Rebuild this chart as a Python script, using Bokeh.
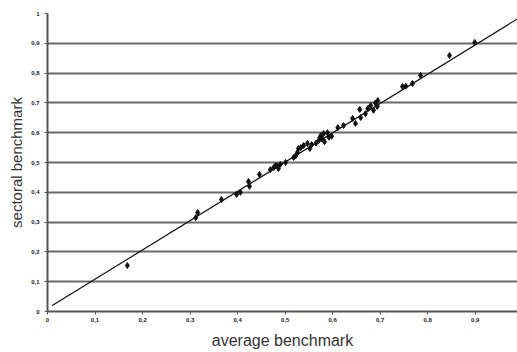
from bokeh.plotting import figure
from bokeh.models import Range1d, FixedTicker
from bokeh.embed import file_html
from bokeh.resources import INLINE

# data
avg_benchmark = [0.168, 0.312, 0.316, 0.366, 0.398, 0.406, 0.423, 0.425, 0.446, 0.469,
                 0.476, 0.480, 0.484, 0.486, 0.490, 0.501, 0.518, 0.522, 0.526, 0.528,
                 0.533, 0.539, 0.547, 0.552, 0.556, 0.565, 0.571, 0.573, 0.575, 0.578,
                 0.581, 0.583, 0.589, 0.592, 0.598, 0.611, 0.623, 0.642, 0.648, 0.657,
                 0.659, 0.669, 0.674, 0.680, 0.686, 0.690, 0.691, 0.695, 0.694, 0.747,
                 0.754, 0.768, 0.785, 0.846, 0.899]
sect_benchmark = [0.154, 0.315, 0.332, 0.376, 0.393, 0.400, 0.436, 0.420, 0.460, 0.476,
                  0.483, 0.490, 0.487, 0.480, 0.494, 0.500, 0.517, 0.522, 0.534, 0.547,
                  0.550, 0.557, 0.564, 0.547, 0.560, 0.565, 0.574, 0.583, 0.590, 0.578,
                  0.597, 0.570, 0.600, 0.585, 0.588, 0.617, 0.624, 0.648, 0.631, 0.678,
                  0.651, 0.664, 0.681, 0.691, 0.675, 0.700, 0.698, 0.708, 0.688, 0.755,
                  0.756, 0.765, 0.792, 0.859, 0.903]

fit_slope = 0.983
fit_intercept = 0.010
fit_x = [0.01, 1.0]
fit_y = [fit_intercept + fit_slope * v for v in fit_x]

x_ticks = [0, 0.1, 0.2, 0.3, 0.4, 0.5, 0.6, 0.7, 0.8, 0.9]
x_labels = ["0", "0,1", "0,2", "0,3", "0,4", "0,5", "0,6", "0,7", "0,8", "0,9"]
y_ticks = [0, 0.1, 0.2, 0.3, 0.4, 0.5, 0.6, 0.7, 0.8, 0.9, 1]
y_labels = ["0", "0,1", "0,2", "0,3", "0,4", "0,5", "0,6", "0,7", "0,8", "0,9", "1"]

p = figure(width=517, height=352, x_range=Range1d(0, 0.989), y_range=Range1d(0, 1),
           output_backend="svg", toolbar_location=None,
           min_border_left=47, min_border_right=0, min_border_top=13, min_border_bottom=41,
           x_axis_label="average benchmark", y_axis_label="sectoral benchmark")
p.outline_line_color = None
p.background_fill_color = "white"
p.border_fill_color = "white"

p.xgrid.visible = False
p.ygrid.ticker = FixedTicker(ticks=y_ticks)
p.ygrid.grid_line_color = "#6a6a6a"
p.ygrid.grid_line_width = 2

p.xaxis.ticker = FixedTicker(ticks=x_ticks)
p.yaxis.ticker = FixedTicker(ticks=y_ticks)
p.xaxis.major_label_overrides = dict(zip(x_ticks, x_labels))
p.yaxis.major_label_overrides = dict(zip(y_ticks, y_labels))

for ax in (p.xaxis[0], p.yaxis[0]):
    ax.axis_line_color = "#555555"
    ax.axis_line_width = 2
    ax.major_tick_line_color = "#555555"
    ax.major_tick_line_width = 1
    ax.major_tick_in = 0
    ax.major_tick_out = 3
    ax.minor_tick_line_color = None
    ax.major_label_text_font = "Liberation Sans"
    ax.major_label_text_font_size = "6px"
    ax.major_label_text_font_style = "bold"
    ax.major_label_text_color = "#222222"
    ax.axis_label_text_font = "Liberation Sans"
    ax.axis_label_text_font_size = "15px"
    ax.axis_label_text_font_style = "normal"
    ax.axis_label_text_color = "#333333"

p.xaxis.axis_label_text_font_size = "16px"
p.yaxis.major_label_standoff = 5
p.yaxis.axis_label_standoff = 3
p.xaxis.major_label_standoff = 3
p.xaxis.axis_label_standoff = 7

p.line(fit_x, fit_y, line_color="#111111", line_width=1.2)
p.scatter(avg_benchmark, sect_benchmark, marker="diamond", size=6,
          fill_color="#111111", line_color="#111111")

open("out.html", "w").write(file_html(p, INLINE))
